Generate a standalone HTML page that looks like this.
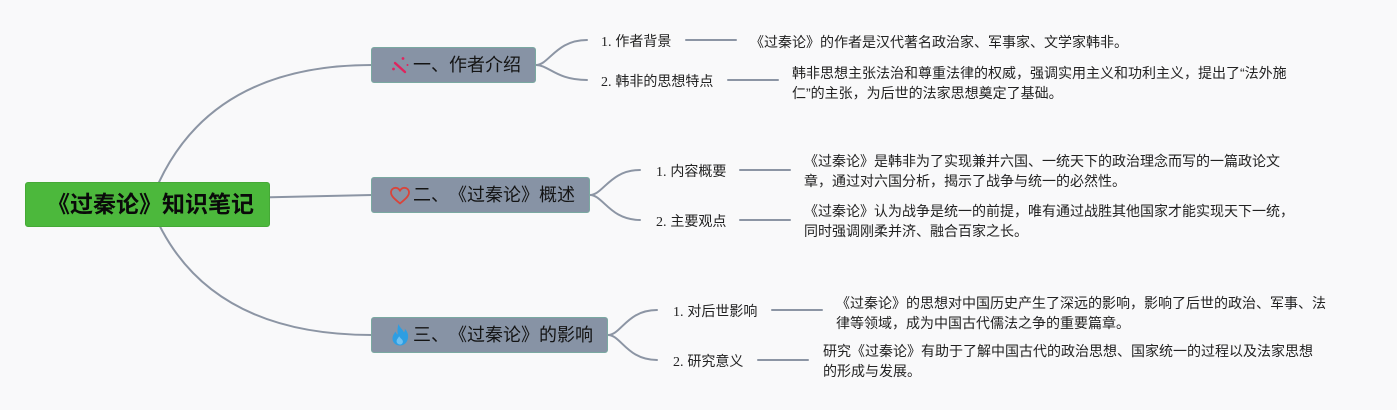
<!DOCTYPE html>
<html><head><meta charset="utf-8"><style>
html,body{margin:0;padding:0;}
body{width:1397px;height:410px;background:#f9f9fa;position:relative;overflow:hidden;font-family:"Liberation Sans","Noto Sans CJK SC",sans-serif;color:#1f1f1f;text-spacing-trim:space-all;font-kerning:none;}
svg.lines{position:absolute;left:0;top:0;}
.root{position:absolute;left:25px;top:182px;width:245px;height:45px;background:#4cb83c;border-radius:3px;box-sizing:border-box;border:1px solid #45a936;font-weight:bold;font-size:23px;line-height:43px;text-align:center;color:#0a0a0a;white-space:nowrap;padding-left:6px;}
.br{position:absolute;left:371px;height:36px;background:#8793a5;border:1px solid #7aa9a1;box-sizing:border-box;border-radius:3px;font-size:18px;line-height:34px;color:#141414;white-space:nowrap;}
.br .t{position:absolute;left:41px;top:0;}
.br svg{position:absolute;left:18px;}
.sub{position:absolute;font-size:14px;line-height:20px;white-space:nowrap;color:#222;}
.sub .n{font-family:"Liberation Serif",serif;}
.leaf{position:absolute;font-size:14px;line-height:20px;white-space:nowrap;color:#222;}
</style></head><body>
<svg class="lines" width="1397" height="410" viewBox="0 0 1397 410">
<g fill="none" stroke="#8c95a4" stroke-width="2" stroke-linecap="round">
<path d="M150,204 Q200,65 372,65"/>
<path d="M150,200 L372,195"/>
<path d="M150,204 Q200,335 372,335"/>
<path d="M536,65 C549,65 556,40 587,40"/>
<path d="M536,65 C549,65 556,80 587,80"/>
<path d="M590,195 C603,195 610,170 640,170"/>
<path d="M590,195 C603,195 610,220 640,220"/>
<path d="M608,335 C621,335 627,310 657,310"/>
<path d="M608,335 C621,335 627,360 657,360"/>
<path d="M686,40 L736,40"/>
<path d="M728,80 L778,80"/>
<path d="M740,170 L790,170"/>
<path d="M740,220 L790,220"/>
<path d="M772,310 L822,310"/>
<path d="M758,360 L808,360"/>
</g>
</svg>

<div class="root">《过秦论》知识笔记</div>

<div class="br" style="top:47px;width:165px;">
<svg width="20" height="20" viewBox="0 0 20 20" style="top:7px;">
<line x1="5" y1="8" x2="15" y2="17" stroke="#e0245e" stroke-width="2.4" stroke-linecap="round"/>
<circle cx="13" cy="3.5" r="1.4" fill="#e0245e"/>
<circle cx="3.5" cy="14" r="1.4" fill="#e0245e"/>
<circle cx="17.5" cy="10" r="1" fill="#e0245e"/>
</svg>
<span class="t">一、作者介绍</span></div>

<div class="br" style="top:177px;width:219px;">
<svg width="22" height="20" viewBox="0 0 22 20" style="top:8px;left:17px;">
<path d="M11,17.5 C7,14 2,10.5 2,6.5 C2,3.5 4.3,1.8 6.6,1.8 C8.7,1.8 10.2,3.2 11,4.8 C11.8,3.2 13.3,1.8 15.4,1.8 C17.7,1.8 20,3.5 20,6.5 C20,10.5 15,14 11,17.5 Z" fill="none" stroke="#d9443a" stroke-width="1.8" stroke-linejoin="round"/>
</svg>
<span class="t">二、《过秦论》概述</span></div>

<div class="br" style="top:317px;width:237px;">
<svg width="20" height="24" viewBox="0 0 20 24" style="top:5px;">
<path d="M8.5,1 C9.5,4.5 13,6.5 14,9.5 C14.8,8.3 15,7 14.8,5.8 C17.5,8.5 18.5,12 18,15 C17.3,19.5 14,22.5 10,22.5 C5.8,22.5 2.5,19.5 2.5,15.5 C2.5,12.3 4.5,10.3 5.5,8.5 C6.2,10 6.8,11 7.8,11.5 C7.2,7.5 7.5,4 8.5,1 Z" fill="#2d9ee3"/>
<path d="M10,21.5 C7.8,21.5 6.3,19.8 6.6,17.8 C6.9,16 8.3,15 9.2,13.3 C10.2,15.5 13,16.5 12.9,18.7 C12.8,20.3 11.6,21.5 10,21.5 Z" fill="#6fc0f0"/>
</svg>
<span class="t">三、《过秦论》的影响</span></div>

<div class="sub" style="left:601px;top:31px;"><span class="n">1.</span> 作者背景</div>
<div class="sub" style="left:601px;top:71px;"><span class="n">2.</span> 韩非的思想特点</div>
<div class="sub" style="left:656px;top:161px;"><span class="n">1.</span> 内容概要</div>
<div class="sub" style="left:656px;top:211px;"><span class="n">2.</span> 主要观点</div>
<div class="sub" style="left:673px;top:301px;"><span class="n">1.</span> 对后世影响</div>
<div class="sub" style="left:673px;top:351px;"><span class="n">2.</span> 研究意义</div>

<div class="leaf" style="left:750px;top:32px;">《过秦论》的作者是汉代著名政治家、军事家、文学家韩非。</div>
<div class="leaf" style="left:792px;top:63px;">韩非思想主张法治和尊重法律的权威，强调实用主义和功利主义，提出了“法外施<br>仁”的主张，为后世的法家思想奠定了基础。</div>
<div class="leaf" style="left:804px;top:151px;">《过秦论》是韩非为了实现兼并六国、一统天下的政治理念而写的一篇政论文<br>章，通过对六国分析，揭示了战争与统一的必然性。</div>
<div class="leaf" style="left:804px;top:201px;">《过秦论》认为战争是统一的前提，唯有通过战胜其他国家才能实现天下一统，<br>同时强调刚柔并济、融合百家之长。</div>
<div class="leaf" style="left:836px;top:293px;">《过秦论》的思想对中国历史产生了深远的影响，影响了后世的政治、军事、法<br>律等领域，成为中国古代儒法之争的重要篇章。</div>
<div class="leaf" style="left:823px;top:341px;">研究《过秦论》有助于了解中国古代的政治思想、国家统一的过程以及法家思想<br>的形成与发展。</div>
</body></html>
